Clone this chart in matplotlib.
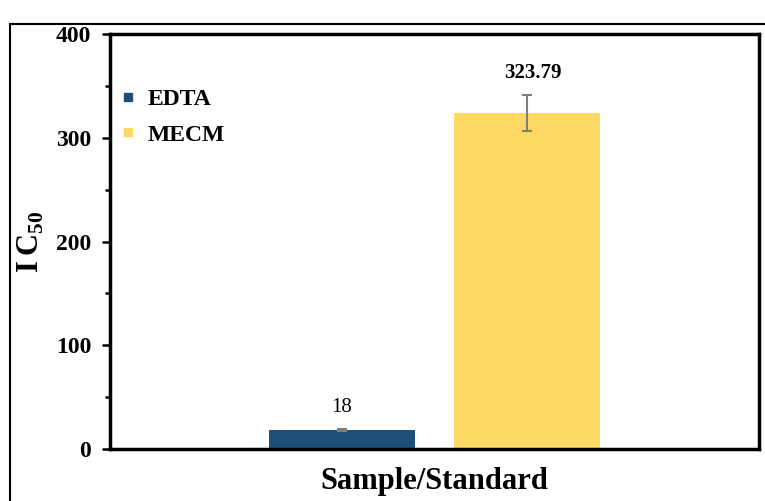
import matplotlib
matplotlib.use('Agg')
import matplotlib.pyplot as plt
from matplotlib.patches import Rectangle
from matplotlib.lines import Line2D
from matplotlib.ticker import MultipleLocator

# IC50 values with their standard deviations
samples = ['EDTA', 'MECM']
ic50 = [18, 323.79]
errors = [1.0, 17.0]
value_labels = ['18', '323.79']
colors = ['#1F4E79', '#FFD966']

plt.rcParams['font.family'] = 'Liberation Serif'
plt.rcParams['font.weight'] = 'bold'
plt.rcParams['mathtext.fontset'] = 'custom'
plt.rcParams['mathtext.rm'] = 'Liberation Serif:bold'
plt.rcParams['mathtext.bf'] = 'Liberation Serif:bold'

fig = plt.figure(figsize=(7.65, 5.01), dpi=100)
ax = fig.add_axes([0.1438, 0.1038, 0.8484, 0.8283])

x = [0, 1]
ax.bar(x, ic50, width=0.79, color=colors, yerr=errors,
       error_kw=dict(ecolor='#7f7f7f', elinewidth=1.5, capsize=3.3, capthick=1.5))

# value labels above each error bar
for xi, v, e, lab, w in zip(x, ic50, errors, value_labels, ['normal', 'bold']):
    ax.annotate(lab, (xi, v + e), xytext=(4 if w == 'bold' else 0, 9),
                textcoords='offset points', ha='center', va='bottom',
                fontsize=15, fontweight=w)

ax.set_xlim(-1.254, 2.254)
ax.set_ylim(0, 400)
ax.set_xticks([])
ax.yaxis.set_major_locator(MultipleLocator(100))
ax.yaxis.set_minor_locator(MultipleLocator(50))
ax.tick_params(axis='y', which='major', direction='out', length=5.5, width=1.8,
               labelsize=17, pad=8)
ax.tick_params(axis='y', which='minor', direction='out', length=3.5, width=1.8)
for s in ax.spines.values():
    s.set_linewidth(2.5)

ax.set_xlabel('Sample/Standard', fontsize=22, fontweight='bold', labelpad=13)
ax.set_ylabel(r'$\mathbf{I\,C}_{\mathbf{50}}$', fontsize=22)
ax.yaxis.set_label_coords(-0.098, 0.5)

handles = [Line2D([], [], marker='s', linestyle='none', markersize=6,
                  color=c) for c in colors]
ax.legend(handles, samples, loc='upper left', bbox_to_anchor=(-0.02, 0.92),
          frameon=False, fontsize=17, handlelength=0.8, handletextpad=0.45,
          labelspacing=0.6)

# thin frame around the figure
fig.patches.append(Rectangle((10 / 765, -0.1), 1.0, 1.076 - 12 / 501,
                             transform=fig.transFigure, fill=False,
                             lw=1.5, ec='black'))

fig.savefig('out.png', dpi=100)
